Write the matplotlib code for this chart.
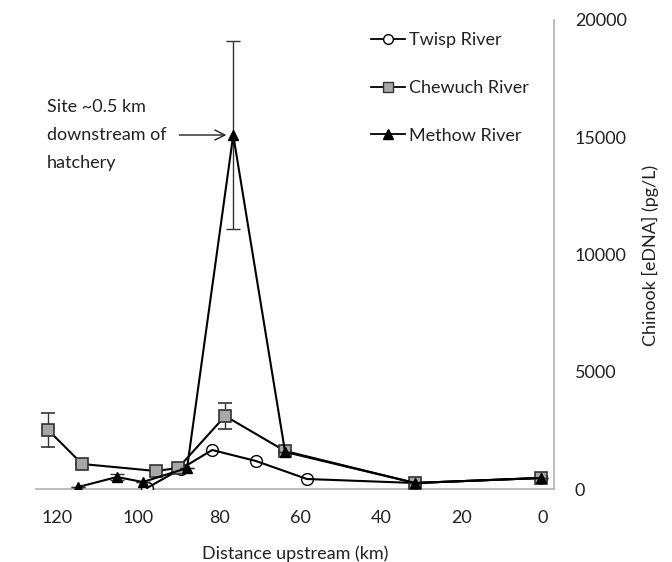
import matplotlib
matplotlib.use("Agg")
import matplotlib.pyplot as plt
from matplotlib.lines import Line2D

plt.rcParams['font.family'] = ['Lato', 'DejaVu Sans']

twisp_x = [97.8, 89.5, 81.7, 70.9, 58.3, 31.6, 0.5]
twisp_y = [43, 850, 1663, 1194, 426, 256, 470]

chew_x = [122.2, 113.8, 95.6, 90.1, 78.5, 63.7, 31.6, 0.5]
chew_y = [2516, 1066, 768, 895, 3113, 1620, 256, 470]
chew_err = [720, 0, 0, 0, 550, 0, 0, 0]

meth_x = [114.8, 105.2, 98.8, 87.9, 76.5, 63.7, 31.6, 0.5]
meth_y = [85, 511, 298, 895, 15095, 1580, 256, 470]
meth_err = [0, 120, 0, 0, 4010, 0, 0, 0]

x_ticks = [120, 100, 80, 60, 40, 20, 0]
y_ticks = [0, 5000, 10000, 15000, 20000]

FS = 13
TXT = '#222222'

fig = plt.figure(figsize=(6.72, 5.62), dpi=100)
ax = fig.add_axes([36/672, 1-489/562, (554-36)/672, (489-20)/562])

# Twisp: markers under the line so the line passes through the open circles
ax.plot(twisp_x, twisp_y, ls='none', marker='o', ms=8.5, mfc='white', mec='black',
        mew=1.0, zorder=3)
ax.plot(twisp_x, twisp_y, color='black', lw=1.5, zorder=3.5)

ax.errorbar(chew_x, chew_y, yerr=chew_err, color='black', lw=1.5, marker='s', ms=8,
            mfc='#a8a8a8', mec='#333333', mew=1.2, capsize=5, elinewidth=1.0,
            ecolor='#333333', zorder=4)
ax.errorbar(meth_x, meth_y, yerr=meth_err, color='black', lw=1.5, marker='^', ms=7.5,
            mfc='black', mec='black', capsize=5, elinewidth=1.0,
            ecolor='#333333', zorder=5)

ax.set_xlim(125.2, -2.7)
ax.set_ylim(0, 20000)
ax.set_xticks(x_ticks)
ax.set_yticks(y_ticks)
ax.yaxis.tick_right()
ax.tick_params(axis='both', length=0, labelsize=FS, colors=TXT)
ax.tick_params(axis='x', pad=15)
ax.tick_params(axis='y', pad=15)
for s in ['left', 'top']:
    ax.spines[s].set_visible(False)
for s in ['bottom', 'right']:
    ax.spines[s].set_color('#b0b0b0')
    ax.spines[s].set_linewidth(1.2)

ax.set_xlabel('Distance upstream (km)', fontsize=FS, color=TXT, labelpad=14)
fig.text(650/672, 1-255/562, 'Chinook [eDNA] (pg/L)', rotation=90, fontsize=FS,
         color=TXT, ha='center', va='center')

ax.annotate('', xy=(77.5, 15095), xytext=(90.5, 15095),
            arrowprops=dict(arrowstyle='->', color=TXT, lw=1.0, mutation_scale=18))
ax.text(122.5, 15100, 'Site ~0.5 km\ndownstream of\nhatchery', fontsize=FS,
        va='center', ha='left', color=TXT, linespacing=1.9)

handles = [
    Line2D([], [], color='black', lw=1.3, marker='o', ms=7, mfc='white', mec='black', mew=1.0),
    Line2D([], [], color='black', lw=1.3, marker='s', ms=7, mfc='#a8a8a8', mec='#333333', mew=1.0),
    Line2D([], [], color='black', lw=1.3, marker='^', ms=7, mfc='black', mec='black'),
]
labels = ['Twisp River', 'Chewuch River', 'Methow River']
leg = ax.legend(handles, labels, loc='upper left', bbox_to_anchor=(0.615, 1.008),
                frameon=False, fontsize=FS, labelspacing=1.75, handlelength=1.9,
                handletextpad=0.2)
for t in leg.get_texts():
    t.set_color(TXT)

fig.savefig('out.png', dpi=100)
